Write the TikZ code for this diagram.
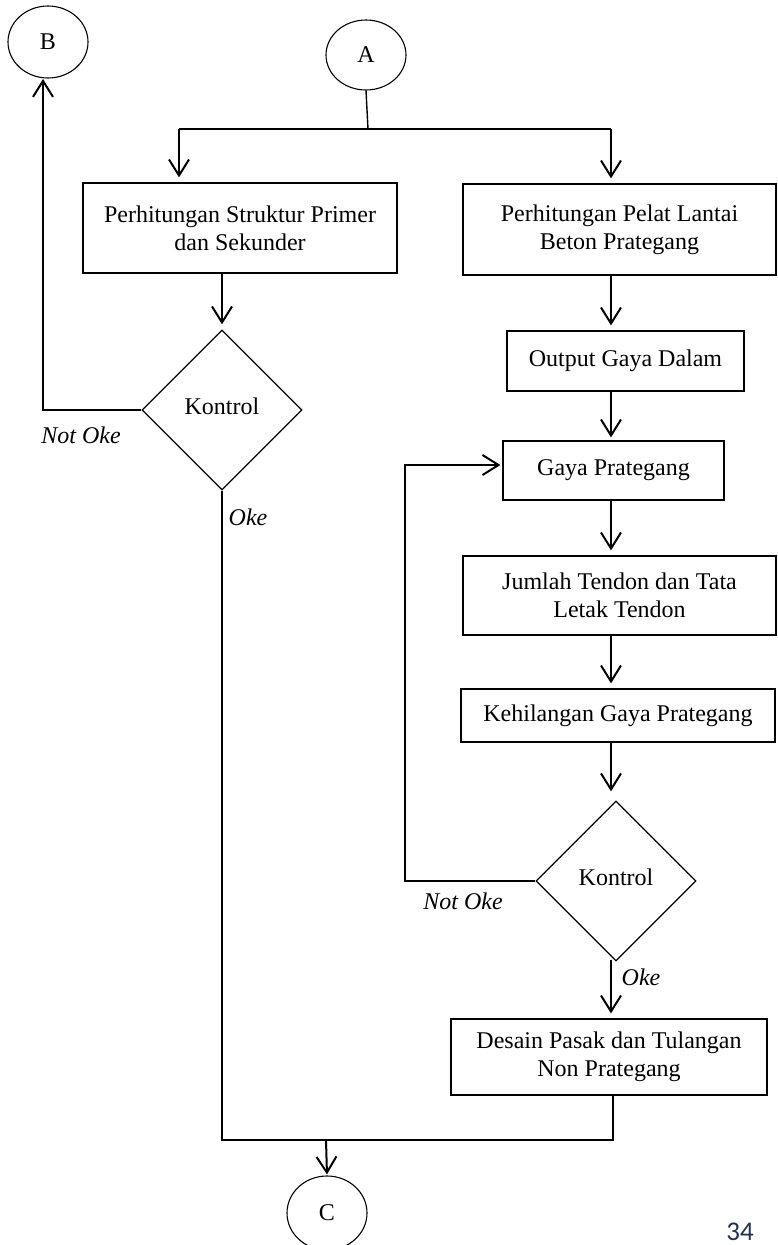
\documentclass[tikz,border=0pt]{standalone}
\usepackage{fontspec}
\setmainfont{Liberation Serif}
\newfontfamily\pagefont{Carlito}
\usetikzlibrary{shapes.geometric,arrows.meta,calc}
\definecolor{pagenum}{HTML}{1F3050}
\tikzset{
  txt/.style={font=\fontsize{24}{28}\selectfont, align=center},
  circ/.style={txt, draw, ellipse, line width=1.1pt, inner sep=0pt},
  box/.style={txt, draw, rectangle, line width=1.2pt, inner sep=0pt},
  dec/.style={txt, draw, diamond, line width=1.3pt, inner sep=0pt, minimum width=160pt, minimum height=160pt, text depth=8pt},
  arr/.style={-{Straight Barb[length=16pt,width=20pt,line width=2pt]}, line width=2pt, shorten >=5pt},
  ln/.style={line width=2pt},
  lbl/.style={font=\fontsize{24}{28}\selectfont\itshape, inner sep=0pt}
}
\begin{document}
\begin{tikzpicture}[x=1pt,y=-1pt]
\useasboundingbox (0,0) rectangle (777,1245);
% terminators
\node[circ, minimum width=80pt, minimum height=72pt] (B) at (48,42) {B};
\node[circ, minimum width=80pt, minimum height=70pt] (A) at (366,55) {A};
\node[circ, minimum width=80pt, minimum height=74pt] (C) at (327,1213) {C};
% left column
\node[box, minimum width=314pt, minimum height=90pt] (box1) at (240,228) {Perhitungan Struktur Primer\\dan Sekunder};
\node[dec] (dia1) at (222,410) {Kontrol};
% right column
\node[box, minimum width=313pt, minimum height=91pt] (box2) at (619.5,229.5) {Perhitungan Pelat Lantai\\Beton Prategang};
\node[box, minimum width=237pt, minimum height=60pt] (out) at (625.5,361) {Output Gaya Dalam};
\node[box, minimum width=221pt, minimum height=59pt] (gaya) at (613.5,470.5) {Gaya Prategang};
\node[box, minimum width=313pt, minimum height=79pt] (jum) at (619.5,595.5) {Jumlah Tendon dan Tata\\Letak Tendon};
\node[box, minimum width=314pt, minimum height=53pt] (keh) at (618,715.5) {Kehilangan Gaya Prategang};
\node[dec] (dia2) at (616,881) {Kontrol};
\node[box, minimum width=316pt, minimum height=76pt] (des) at (609,1057) {Desain Pasak dan Tulangan\\Non Prategang};
% labels
\node[lbl] (no1) at (81,435) {Not Oke};
\node[lbl] (ok1) at (248,517) {Oke};
\node[lbl] (no2) at (463,901) {Not Oke};
\node[lbl] (ok2) at (641,977) {Oke};
\node[font=\pagefont\fontsize{27}{30}\selectfont, text=pagenum, inner sep=0pt] (pg) at (740,1232) {34};
% coordinates
\coordinate (jA) at (368,129);
\coordinate (jL) at (179,129);
\coordinate (jR) at (611,129);
\coordinate (kB) at (43,78);
\coordinate (fb) at (405,465);
\coordinate (jC) at (326,1140);
\coordinate (jD) at (613,1140);
% connectors
\draw[line width=1.4pt] (A.south) -- (jA);
\draw[ln] (jL) -- (jR);
\draw[arr] (jL) -- (jL |- box1.north);
\draw[arr] (jR) -- (jR |- box2.north);
\draw[arr] (box1.south -| dia1.north) -- (dia1.north);
\draw[arr, shorten >=1pt] (dia1.west) -- (dia1.west -| kB) -- (kB);
\draw[ln] (dia1.south) |- (jD) -- (jD |- des.south);
\draw[arr, shorten >=1pt] (jC) -- (C.north);
\draw[arr] (box2.south -| jR) -- (jR |- out.north);
\draw[arr, shorten >=3pt] (out.south -| jR) -- (jR |- gaya.north);
\draw[arr] (gaya.south -| jR) -- (jR |- jum.north);
\draw[arr] (jum.south -| jR) -- (jR |- keh.north);
\draw[arr, shorten >=9pt] (keh.south -| jR) -- (jR |- dia2.north);
\draw[arr, shorten >=2pt] (dia2.west) -- (dia2.west -| fb) -- (fb) -- (fb -| gaya.west);
\draw[arr] ([yshift=2pt]dia2.south -| jR) -- (jR |- des.north);
\end{tikzpicture}
\end{document}
